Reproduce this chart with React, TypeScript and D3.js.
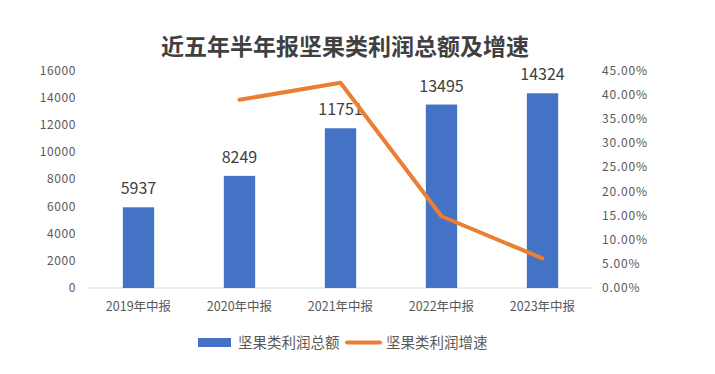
import * as d3 from "d3";

const categories = ["2019年中报", "2020年中报", "2021年中报", "2022年中报", "2023年中报"];
const profitTotal = [5937, 8249, 11751, 13495, 14324];
const profitGrowth = [null, 0.3894, 0.4245, 0.1484, 0.0614];
const leftTicks = [0, 2000, 4000, 6000, 8000, 10000, 12000, 14000, 16000];
const rightTicks = [0, 0.05, 0.1, 0.15, 0.2, 0.25, 0.3, 0.35, 0.4, 0.45];

const W = 715;
const H = 374;
const FONT = "'Noto Sans CJK SC', 'Noto Sans', sans-serif";

export default function App() {
  const x = d3.scaleBand().domain(categories).range([88, 593]).paddingInner(0.69).paddingOuter(0.345);
  const yL = d3.scaleLinear().domain([0, 16000]).range([288, 70.5]);
  const yR = d3.scaleLinear().domain([0, 0.45]).range([288, 70.5]);

  const linePts = categories
    .map((c, i) => ({ c, v: profitGrowth[i] }))
    .filter(d => d.v !== null) as { c: string; v: number }[];
  const line = d3
    .line<{ c: string; v: number }>()
    .x(d => (x(d.c) ?? 0) + x.bandwidth() / 2)
    .y(d => yR(d.v));

  return (
    <svg width={W} height={H} style={{ position: "absolute", left: 0, top: 0, fontFamily: FONT }}>
      <rect width={W} height={H} fill="#fff" />
      <text x={345} y={55} textAnchor="middle" fontSize={23} fontWeight="bold" fill="#404040">
        近五年半年报坚果类利润总额及增速
      </text>

      {leftTicks.map(t => (
        <text key={t} x={76} y={yL(t)} dy="0.35em" textAnchor="end" fontSize={12} letterSpacing={0.6} fill="#595959">
          {t}
        </text>
      ))}
      {rightTicks.map(t => (
        <text key={t} x={602} y={yR(t)} dy="0.35em" textAnchor="start" fontSize={12} letterSpacing={0.8} fill="#595959">
          {d3.format(".2%")(t)}
        </text>
      ))}

      <line x1={88} x2={593} y1={yL(0)} y2={yL(0)} stroke="#d9d9d9" strokeWidth={1} />

      {categories.map((c, i) => (
        <g key={c}>
          <rect
            x={x(c)}
            y={yL(profitTotal[i])}
            width={x.bandwidth()}
            height={yL(0) - yL(profitTotal[i])}
            fill="#4472C4"
          />
          <text
            x={(x(c) ?? 0) + x.bandwidth() / 2}
            y={yL(profitTotal[i]) - 13}
            textAnchor="middle"
            fontSize={16}
            fill="#404040"
          >
            {profitTotal[i]}
          </text>
          <text
            x={(x(c) ?? 0) + x.bandwidth() / 2}
            y={311}
            textAnchor="middle"
            fontSize={12.5}
            fill="#595959"
          >
            {c}
          </text>
        </g>
      ))}

      <path d={line(linePts) ?? ""} fill="none" stroke="#ED7D31" strokeWidth={4} strokeLinejoin="round" strokeLinecap="round" />

      <rect x={198} y={338} width={33} height={9} fill="#4472C4" />
      <text x={238} y={342.5} dy="0.35em" fontSize={14.5} fill="#595959">坚果类利润总额</text>
      <line x1={347} x2={380} y1={342.5} y2={342.5} stroke="#ED7D31" strokeWidth={4} strokeLinecap="round" />
      <text x={386} y={342.5} dy="0.35em" fontSize={14.5} fill="#595959">坚果类利润增速</text>
    </svg>
  );
}
